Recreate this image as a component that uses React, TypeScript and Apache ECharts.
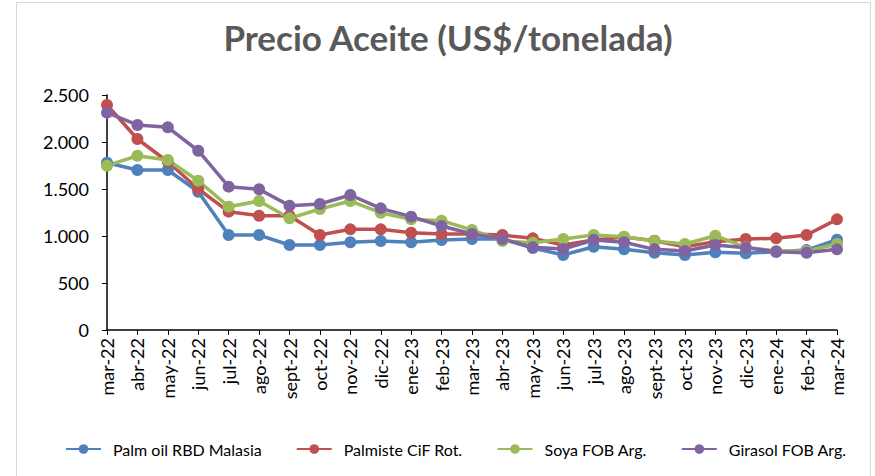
import React, { useEffect, useRef } from "react";
import * as echarts from "echarts";

const categories = [
  "mar-22", "abr-22", "may-22", "jun-22", "jul-22", "ago-22", "sept-22", "oct-22", "nov-22", "dic-22",
  "ene-23", "feb-23", "mar-23", "abr-23", "may-23", "jun-23", "jul-23", "ago-23", "sept-23", "oct-23",
  "nov-23", "dic-23", "ene-24", "feb-24", "mar-24",
];

const palmOil = [1780, 1702, 1702, 1471, 1010, 1010, 904, 904, 934, 947, 934, 957, 968, 968, 872, 798, 886, 858, 822, 798, 826, 816, 833, 850, 960];
const palmiste = [2394, 2032, 1790, 1500, 1259, 1216, 1216, 1010, 1071, 1071, 1035, 1021, 1021, 1010, 975, 904, 957, 990, 950, 886, 940, 968, 975, 1010, 1177];
const soya = [1748, 1854, 1809, 1588, 1312, 1372, 1188, 1287, 1372, 1248, 1177, 1163, 1064, 947, 929, 968, 1010, 993, 947, 915, 1003, 880, 840, 840, 915];
const girasol = [2312, 2181, 2156, 1907, 1525, 1497, 1323, 1340, 1436, 1294, 1206, 1106, 1021, 968, 880, 862, 957, 933, 858, 840, 904, 876, 833, 822, 858];

const seriesNames = ["Palm oil RBD Malasia", "Palmiste CiF Rot.", "Soya FOB Arg.", "Girasol FOB Arg."];
const colors = ["#4F81BD", "#C0504D", "#9BBB59", "#8064A2"];
const yTicks = { min: 0, max: 2500, interval: 500 };

export default function App() {
  const ref = useRef<HTMLDivElement>(null);
  useEffect(() => {
    if (!ref.current) return;
    const chart = echarts.init(ref.current, undefined, { renderer: "svg" });
    const dataSets = [palmOil, palmiste, soya, girasol];
    const font = "Lato, 'Liberation Sans', sans-serif";
    chart.setOption({
      animation: false,
      backgroundColor: "#ffffff",
      title: {
        text: "Precio Aceite (US$/tonelada)",
        left: 443,
        textAlign: "center",
        top: 14,
        textStyle: { fontFamily: font, fontSize: 35, fontWeight: "bold", color: "#595959" },
      },
      graphic: [
        {
          type: "rect",
          shape: { x: 16.5, y: 2.5, width: 854, height: 490 },
          style: { fill: "none", stroke: "#d9d9d9", lineWidth: 1 },
          silent: true,
        },
      ],
      legend: {
        bottom: 14,
        left: 60,
        itemWidth: 35,
        itemHeight: 12,
        itemGap: 34,
        textStyle: { fontFamily: font, fontSize: 16, color: "#000", padding: [0, 0, 0, 7] },
        data: seriesNames,
      },
      grid: { left: 107, right: 38, top: 95, bottom: 146, containLabel: false },
      xAxis: {
        type: "category",
        boundaryGap: false,
        data: categories,
        axisLine: { lineStyle: { color: "#000", width: 1.5 } },
        axisTick: { show: true, length: 5, lineStyle: { color: "#000" } },
        axisLabel: { rotate: 90, fontFamily: font, fontSize: 18, color: "#000", margin: 8, interval: 0 },
        splitLine: { show: false },
      },
      yAxis: {
        type: "value",
        min: yTicks.min,
        max: yTicks.max,
        interval: yTicks.interval,
        axisLine: { show: true, lineStyle: { color: "#000", width: 1.5 } },
        axisTick: { show: true, length: 5, lineStyle: { color: "#000" } },
        axisLabel: {
          fontFamily: font,
          fontSize: 18,
          color: "#000",
          margin: 18,
          formatter: (v: number) => String(v).replace(/\B(?=(\d{3})+(?!\d))/g, "."),
        },
        splitLine: { show: false },
      },
      series: dataSets.map((d, i) => ({
        name: seriesNames[i],
        type: "line",
        data: d,
        symbol: "circle",
        symbolSize: 12,
        lineStyle: { width: 3.5, color: colors[i] },
        itemStyle: { color: colors[i] },
      })),
    });
    return () => chart.dispose();
  }, []);
  return <div ref={ref} style={{ position: "fixed", left: 0, top: 0, width: 875, height: 476 }} />;
}
